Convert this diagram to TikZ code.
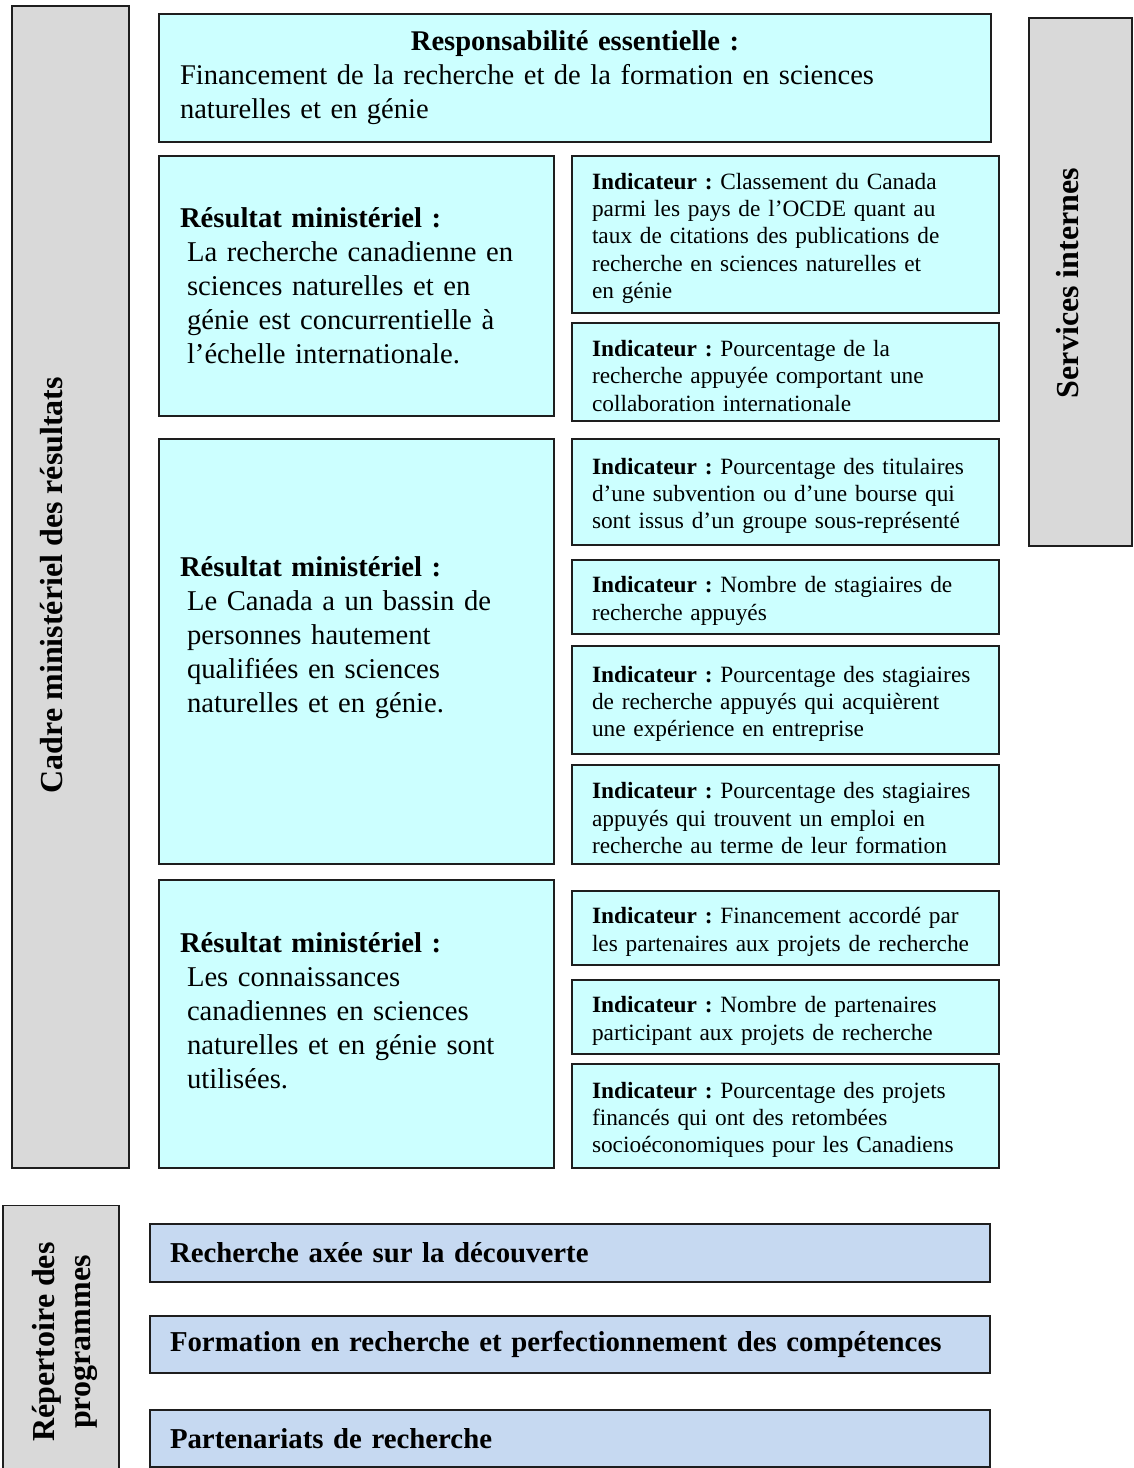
\documentclass[tikz,border=0pt]{standalone}
\usepackage{fontspec}
\setmainfont{Liberation Serif}
\usepackage{tikz}
\usetikzlibrary{positioning,calc}
\frenchspacing
\hyphenpenalty=10000
\definecolor{CyanPale}{RGB}{204,255,255}
\definecolor{GrisCadre}{RGB}{217,217,217}
\definecolor{BleuProg}{RGB}{198,217,241}
\definecolor{Contour}{RGB}{30,30,30}
\tikzset{%
  boite/.style={%
    draw=Contour, line width=0.8pt, inner ysep=0pt
  },
  bandeau/.style={%
    boite, fill=GrisCadre, inner sep=0pt
  },
  responsabilite/.style={%
    boite, fill=CyanPale, minimum width=624pt, minimum height=96pt,
    inner xsep=15.75pt, text width=592.5pt, align=left,
    font=\fontsize{21.4}{25.5}\selectfont
  },
  resultat/.style={%
    boite, fill=CyanPale, minimum width=296.25pt,
    inner xsep=15.75pt, text width=264.75pt, align=left,
    font=\fontsize{21.5}{25.5}\selectfont
  },
  indicateur/.style={%
    boite, fill=CyanPale, minimum width=320.25pt,
    inner xsep=15pt, text width=290.25pt, align=left,
    font=\fontsize{17.5}{20.6}\selectfont
  },
  programme/.style={%
    boite, fill=BleuProg, minimum width=630pt,
    inner xsep=15pt, text width=600pt, align=left,
    font=\fontsize{21.6}{25.5}\selectfont\bfseries
  },
  etiquette/.style={%
    rotate=90, align=center, inner sep=0pt,
    font=\fontsize{24}{27}\selectfont\bfseries
  },
}
\newcommand{\ind}{\rule{0pt}{18pt}\textbf{Indicateur :} }
\newcommand{\retrait}{\hspace*{5.25pt}}

\begin{document}
\begin{tikzpicture}[x=0.75pt, y=-0.75pt]
    \useasboundingbox (0,0) rectangle (1133,1468);
    \clip (0,0) rectangle (1133,1468);

    % bandeaux gris
    \node (CadreResultats)[bandeau, minimum width=87.75pt, minimum height=871.5pt] at (70.5,587) {};
    \node (ServicesInternes)[bandeau, minimum width=77.25pt, minimum height=396pt] at (1080.5,282) {};
    \node (Repertoire)[bandeau, minimum width=87pt, minimum height=200.25pt] at (61,1339) {};
    \node (CadreTexte)[etiquette] at (52,585) {Cadre ministériel des résultats};
    \node (ServicesTexte)[etiquette] at (1068,283) {Services internes};
    \node (RepertoireTexte)[etiquette] at (65,1342) {Répertoire des\\programmes};

    % responsabilite essentielle
    \node (Responsabilite)[responsabilite] at (575,78) {%
        {\centering\bfseries Responsabilité essentielle :\par}
        Financement de la recherche et de la formation en sciences\\
        naturelles et en génie};

    % resultats ministeriels
    \node (ResultatA)[resultat, minimum height=195pt] at (356.5,286) {%
        \textbf{Résultat ministériel :}\\
        \retrait La recherche canadienne en\\
        \retrait sciences naturelles et en\\
        \retrait génie est concurrentielle à\\
        \retrait l’échelle internationale.};
    \node (ResultatB)[resultat, minimum height=318.75pt] at (356.5,651.5) {%
        \textbf{Résultat ministériel :}\\
        \retrait Le Canada a un bassin de\\
        \retrait personnes hautement\\
        \retrait qualifiées en sciences\\
        \retrait naturelles et en génie.\\
        \mbox{}};
    \node (ResultatC)[resultat, minimum height=216pt] at (356.5,1024) {%
        \textbf{Résultat ministériel :}\\
        \retrait Les connaissances\\
        \retrait canadiennes en sciences\\
        \retrait naturelles et en génie sont\\
        \retrait utilisées.\\[-6pt]
        \mbox{}};

    % indicateurs
    \node (IndicateurA1)[indicateur, minimum height=117.75pt] at (785.5,234.5) {%
        \ind Classement du Canada\\
        parmi les pays de l’OCDE quant au\\
        taux de citations des publications de\\
        recherche en sciences naturelles et\\
        en génie};
    \node (IndicateurA2)[indicateur, minimum height=73.5pt] at (785.5,372) {%
        \ind Pourcentage de la\\
        recherche appuyée comportant une\\
        collaboration internationale};
    \node (IndicateurB1)[indicateur, minimum height=79.5pt] at (785.5,492) {%
        \ind Pourcentage des titulaires\\
        d’une subvention ou d’une bourse qui\\
        sont issus d’un groupe sous-représenté};
    \node (IndicateurB2)[indicateur, minimum height=55.5pt] at (785.5,597) {%
        \ind Nombre de stagiaires de\\
        recherche appuyés};
    \node (IndicateurB3)[indicateur, minimum height=81pt] at (785.5,700) {%
        \ind Pourcentage des stagiaires\\
        de recherche appuyés qui acquièrent\\
        une expérience en entreprise};
    \node (IndicateurB4)[indicateur, minimum height=74.25pt] at (785.5,814.5) {%
        \ind Pourcentage des stagiaires\\
        appuyés qui trouvent un emploi en\\
        recherche au terme de leur formation};
    \node (IndicateurC1)[indicateur, minimum height=55.5pt] at (785.5,928) {%
        \ind Financement accordé par\\
        les partenaires aux projets de recherche};
    \node (IndicateurC2)[indicateur, minimum height=55.5pt] at (785.5,1017) {%
        \ind Nombre de partenaires\\
        participant aux projets de recherche};
    \node (IndicateurC3)[indicateur, minimum height=78pt] at (785.5,1116) {%
        \ind Pourcentage des projets\\
        financés qui ont des retombées\\
        socioéconomiques pour les Canadiens};

    % programmes
    \node (ProgrammeA)[programme, minimum height=43.5pt] at (570,1253) {Recherche axée sur la découverte};
    \node (ProgrammeB)[programme, minimum height=42.75pt] at (570,1344.5) {Formation en recherche et perfectionnement des compétences};
    \node (ProgrammeC)[programme, minimum height=42.75pt] at (570,1438.5) {Partenariats de recherche};
\end{tikzpicture}
\end{document}
